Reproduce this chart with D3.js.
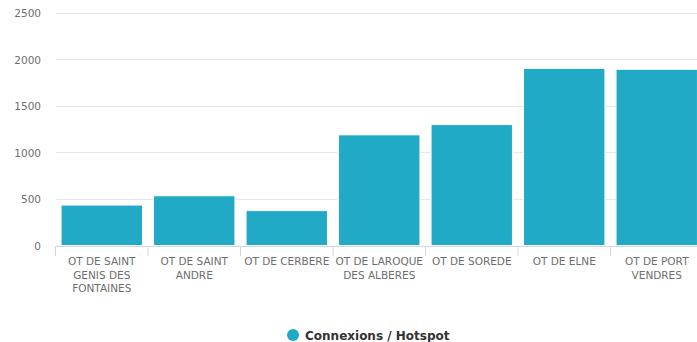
<!DOCTYPE html>
<html>
<head>
<meta charset="utf-8">
<script src="https://cdn.jsdelivr.net/npm/d3@7"></script>
<style>
  body { margin: 0; background: #fff; }
  svg { font-family: "DejaVu Sans", sans-serif; }
</style>
</head>
<body>
<div id="chart"></div>
<script>
const categories = [
  ["OT DE SAINT", "GENIS DES", "FONTAINES"],
  ["OT DE SAINT", "ANDRE"],
  ["OT DE CERBERE"],
  ["OT DE LAROQUE", "DES ALBERES"],
  ["OT DE SOREDE"],
  ["OT DE ELNE"],
  ["OT DE PORT", "VENDRES"]
];
const values = [435, 535, 375, 1190, 1300, 1905, 1895];
const yTicks = [0, 500, 1000, 1500, 2000, 2500];
const seriesName = "Connexions / Hotspot";

const width = 697;
const height = 342;
const color = "#20aac6";

const svg = d3.select("#chart")
  .append("svg")
  .attr("width", width)
  .attr("height", height);

const x = d3.scaleBand()
  .domain(d3.range(categories.length))
  .range([55.5, 703])
  .paddingInner(0.12)
  .paddingOuter(0.06);

const y = d3.scaleLinear()
  .domain([0, 2500])
  .range([245.5, 13]);

//gridlines
svg.append("g")
  .selectAll("line")
  .data(yTicks.slice(1))
  .enter()
  .append("line")
  .attr("x1", 56)
  .attr("x2", width)
  .attr("y1", (d) => Math.round(y(d)) + 0.5)
  .attr("y2", (d) => Math.round(y(d)) + 0.5)
  .attr("stroke", "#e6e6e6")
  .attr("stroke-width", 1);

//y labels
svg.append("g")
  .selectAll("text")
  .data(yTicks)
  .enter()
  .append("text")
  .attr("x", 41)
  .attr("y", (d) => y(d) + 4)
  .attr("text-anchor", "end")
  .attr("font-size", "10.5px")
  .attr("fill", "#6e6e6e")
  .text((d) => d);

//bars
svg.append("g")
  .selectAll("rect")
  .data(values)
  .enter()
  .append("rect")
  .attr("x", (d, i) => x(i))
  .attr("y", (d) => y(d))
  .attr("width", x.bandwidth())
  .attr("height", (d) => y(0) - y(d))
  .attr("fill", color)
  .attr("stroke", "#fff")
  .attr("stroke-width", 1);

//x axis line and ticks
const step = x.step();
const x0 = 55.5;
svg.append("line")
  .attr("x1", x0)
  .attr("x2", width)
  .attr("y1", 246.5)
  .attr("y2", 246.5)
  .attr("stroke", "#ccd6eb");

svg.append("g")
  .selectAll("line")
  .data(d3.range(categories.length + 1))
  .enter()
  .append("line")
  .attr("x1", (d) => x0 + d * step)
  .attr("x2", (d) => x0 + d * step)
  .attr("y1", 246)
  .attr("y2", 256)
  .attr("stroke", "#ccd6eb");

//category labels
const labels = svg.append("g")
  .selectAll("text")
  .data(categories)
  .enter()
  .append("text")
  .attr("text-anchor", "middle")
  .attr("font-size", "10.5px")
  .attr("fill", "#6e6e6e");

labels.selectAll("tspan")
  .data((d, i) => d.map((t) => ({ t: t, i: i })))
  .enter()
  .append("tspan")
  .attr("x", (d) => x(d.i) + x.bandwidth() / 2)
  .attr("y", (d, j) => 265 + j * 13.5)
  .text((d) => d.t);

//legend
const legend = svg.append("g");
legend.append("circle")
  .attr("cx", 293)
  .attr("cy", 335)
  .attr("r", 6)
  .attr("fill", color);
legend.append("text")
  .attr("x", 305)
  .attr("y", 339.5)
  .attr("font-size", "12px")
  .attr("font-weight", "bold")
  .attr("fill", "#333")
  .text(seriesName);
</script>
</body>
</html>
